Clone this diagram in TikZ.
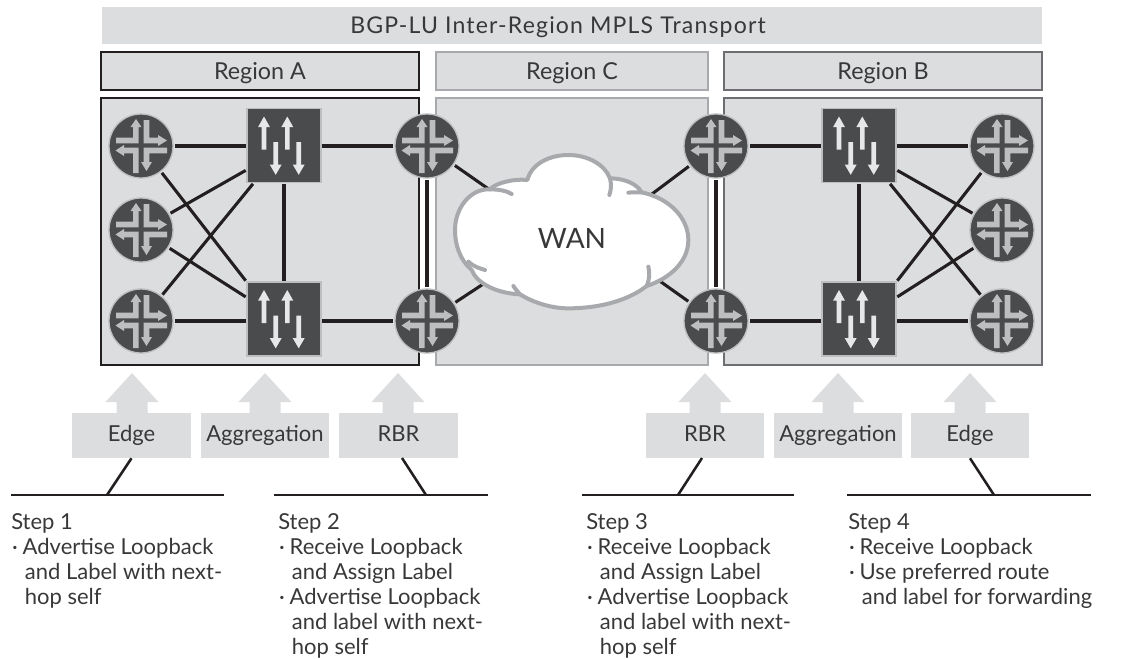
\documentclass[tikz,border=0pt]{standalone}
\usepackage{fontspec}
\setmainfont{Lato}
\newfontfamily\widefont[LetterSpace=5]{Lato}
\usetikzlibrary{calc}
\definecolor{ink}{HTML}{231F20}
\definecolor{soft}{HTML}{38383A}
\definecolor{panel}{HTML}{DCDDDE}
\definecolor{dev}{HTML}{4A4B4D}
\definecolor{devedge}{HTML}{BCBEC0}
\definecolor{glyph}{HTML}{BCBEC0}
\definecolor{swarrow}{HTML}{E6E7E8}
\definecolor{cloudedge}{HTML}{A7A9AC}
\definecolor{edgeB}{HTML}{6D6E71}
\newcommand{\routerglyph}[1]{%
 \begin{scope}[shift={(#1)}]
  \fill[glyph] (-25,-8.3)--(-8,-8.3)--(-8,-19)--(-10.5,-19)--(-5,-27)--(0.5,-19)--(-2.5,-19)--(-2.5,-2.7)--(-25,-2.7)--cycle;
  \fill[glyph] (2.7,-26)--(8.3,-26)--(8.3,-8.3)--(17,-8.3)--(17,-11)--(26,-5.5)--(17,0)--(17,-2.7)--(2.7,-2.7)--cycle;
  \fill[glyph] (-2.5,1.7)--(-2.5,27)--(-8,27)--(-8,7.3)--(-17,7.3)--(-17,10)--(-25.5,4.5)--(-17,-1)--(-17,1.7)--cycle;
  \fill[glyph] (2.7,1.7)--(26,1.7)--(26,7.3)--(8.3,7.3)--(8.3,16)--(11,16)--(5.5,25)--(0,16)--(2.7,16)--cycle;
 \end{scope}}
\newcommand{\swglyph}[1]{%
 \begin{scope}[shift={(#1)}]
  \foreach \q in {-20,3.3}{\fill[swarrow,shift={(\q,0)}] (-2.3,4)--(-2.3,-18.3)--(-6,-18.3)--(0,-29)--(6,-18.3)--(2.3,-18.3)--(2.3,4)--cycle;}
  \foreach \q in {-8.3,14.7}{\fill[swarrow,shift={(\q,0)}] (-2.3,-3.3)--(-2.3,19)--(-6,19)--(0,29.3)--(6,19)--(2.3,19)--(2.3,-3.3)--cycle;}
 \end{scope}}
\newcommand{\uparr}[1]{\fill[panel,shift={(#1,0)}] (-15.5,414)--(-15.5,402)--(-26.5,402)--(0,373)--(26.5,402)--(15.5,402)--(15.5,414)--cycle;}
\tikzset{
 x=0.75pt,y=-0.75pt,
 lbl/.style={font=\fontsize{16.5}{18.8}\selectfont,text=soft},
 panelbox/.style={lbl,fill=panel,inner sep=0pt,outer sep=0pt,line width=1.6pt,text height=12pt,text depth=0pt},
 regionname/.style={font=\fontsize{17.5}{20}\selectfont},
 router/.style={circle,fill=dev,draw=devedge,line width=1pt,minimum size=48pt,inner sep=0pt,outer sep=1.5pt},
 switchbox/.style={rectangle,fill=dev,draw=devedge,line width=1pt,minimum width=55.5pt,minimum height=55.5pt,inner sep=0pt,outer sep=1pt},
 link/.style={ink,line width=2.3pt},
 leader/.style={ink,line width=1.9pt},
 tag/.style={lbl,fill=panel,inner sep=0pt,minimum height=33.75pt,text height=12pt,text depth=2.5pt},
 steptext/.style={lbl,anchor=north west,align=left,inner sep=0pt},
}
\newcommand{\bul}{\makebox[8.6pt][l]{\hspace*{0.6pt}·}}
\newcommand{\ind}{\hspace*{10.2pt}}
\begin{document}
\begin{tikzpicture}
\useasboundingbox (0,0) rectangle (1134,658);
% header bands
\node[panelbox,minimum width=705pt,minimum height=27.75pt] (top) at (572,25.5) {};
\node[lbl,font=\fontsize{17.3}{20}\widefont,text height=12pt,text depth=0pt,inner sep=0pt] (toptext) at (558,25.5) {BGP-LU Inter-Region MPLS Transport};
\node[panelbox,regionname,draw=ink,minimum width=238.5pt,minimum height=28.5pt] (ha) at (260,71) {Region A};
\node[panelbox,regionname,draw=cloudedge,minimum width=204pt,minimum height=28.5pt] (hc) at (572,71) {Region C};
\node[panelbox,regionname,draw=edgeB,minimum width=238.5pt,minimum height=28.5pt] (hb) at (883,71) {Region B};
% region panels
\node[panelbox,draw=ink,minimum width=238.5pt,minimum height=200.25pt] (ra) at (260,231.5) {};
\node[panelbox,draw=cloudedge,minimum width=204pt,minimum height=200.25pt] (rc) at (572,231.5) {};
\node[panelbox,draw=edgeB,minimum width=238.5pt,minimum height=200.25pt] (rb) at (883,231.5) {};
% devices
\node[router] (a1) at (141,146) {};
\node[router] (a2) at (141,230) {};
\node[router] (a3) at (141,321) {};
\node[switchbox] (s1) at (284,145.5) {};
\node[switchbox] (s2) at (284,319) {};
\node[router] (b1) at (427,146) {};
\node[router] (b2) at (427,321) {};
\node[router] (c1) at (716,146) {};
\node[router] (c2) at (716,321) {};
\node[switchbox] (s3) at (859,145.5) {};
\node[switchbox] (s4) at (859,319) {};
\node[router] (d1) at (1002,146) {};
\node[router] (d2) at (1002,230) {};
\node[router] (d3) at (1002,321) {};
\coordinate (wnw) at (500,197);
\coordinate (wsw) at (500,273);
\coordinate (wne) at (640,203);
\coordinate (wse) at (640,267);
% links
\draw[link] (a1.east) -- (s1.west |- a1.east);
\draw[link] (a3.east) -- (s2.west |- a3.east);
\draw[link] (s1.east |- b1.west) -- (b1.west);
\draw[link] (s2.east |- b2.west) -- (b2.west);
\draw[link] (a1) -- (s2.north west);
\draw[link] (a2) -- (s1.213);
\draw[link] (a2) -- (s2.150);
\draw[link] (a3) -- (s1.231);
\draw[link] (s1.south) -- (s2.north);
\draw[link] (b1) -- (b2);
\draw[link] (c1) -- (c2);
\draw[link] (b1) -- (wnw);
\draw[link] (b2) -- (wsw);
\draw[link] (c1) -- (wne);
\draw[link] (c2) -- (wse);
\draw[link] (c1.east) -- (s3.west |- c1.east);
\draw[link] (c2.east) -- (s4.west |- c2.east);
\draw[link] (s3.east |- d1.west) -- (d1.west);
\draw[link] (s4.east |- d3.west) -- (d3.west);
\draw[link] (d1) -- (s4.north east);
\draw[link] (s3.327) -- (d2);
\draw[link] (s4.30) -- (d2);
\draw[link] (s3.309) -- (d3);
\draw[link] (s3.south) -- (s4.north);
% device symbols
\foreach \n in {a1,a2,a3,b1,b2,c1,c2,d1,d2,d3}{\routerglyph{\n}}
\foreach \n in {s1,s2,s3,s4}{\swglyph{\n}}
% cloud
\begin{scope}[shift={(440,80)},x=0.25pt,y=-0.25pt,line cap=round]
 \draw[fill=white,draw=cloudedge,line width=3pt,line join=round]
  (45,450) .. controls (45,385) and (90,325) .. (150,328)
  .. controls (165,310) and (220,295) .. (262,300)
  .. controls (275,250) and (330,225) .. (385,225)
  .. controls (445,225) and (495,255) .. (510,295)
  .. controls (550,295) and (590,310) .. (605,337)
  .. controls (690,355) and (745,415) .. (745,480)
  .. controls (745,545) and (690,595) .. (620,618)
  .. controls (560,665) and (470,685) .. (385,685)
  .. controls (330,685) and (275,665) .. (240,643)
  .. controls (170,640) and (110,610) .. (95,570)
  .. controls (60,540) and (45,495) .. (45,450) -- cycle;
 \draw[draw=cloudedge,line width=3pt]
  (150,328) .. controls (175,328) and (200,332) .. (215,342)
  (510,295) .. controls (515,315) and (513,330) .. (508,345)
  (565,338) .. controls (580,336) and (595,337) .. (605,337)
  (625,560) .. controls (630,580) and (628,600) .. (620,618)
  (220,618) .. controls (228,630) and (235,637) .. (240,643)
  (85,545) .. controls (100,560) and (120,565) .. (135,570);
\end{scope}
\node[lbl,font=\fontsize{21}{24}\selectfont] (wan) at (572,238) {WAN};
% role tags
\uparr{132}\uparr{265}\uparr{398}\uparr{705}\uparr{838}\uparr{970}
\node[tag,minimum width=89.25pt] (te) at (131.5,435.5) {Edge};
\node[tag,minimum width=96pt] (tg) at (265,435.5) {Aggregation};
\node[tag,minimum width=89.25pt] (tr) at (398.5,435.5) {RBR};
\node[tag,minimum width=88.5pt] (ur) at (705,435.5) {RBR};
\node[tag,minimum width=96pt] (ug) at (838,435.5) {Aggregation};
\node[tag,minimum width=88.5pt] (ue) at (970,435.5) {Edge};
% leaders
\coordinate (l1a) at (11,495); \coordinate (l1b) at (224,495); \coordinate (l1c) at (107,495);
\coordinate (l2a) at (274,495); \coordinate (l2b) at (488,495); \coordinate (l2c) at (426,495); \coordinate (l2d) at (402,458);
\coordinate (l3a) at (582,495); \coordinate (l3b) at (794,495); \coordinate (l3c) at (678,495); \coordinate (l3d) at (702,458);
\coordinate (l4a) at (847,495); \coordinate (l4b) at (1091,495); \coordinate (l4c) at (994,495);
\draw[leader] (l1a) -- (l1b); \draw[leader] (te.south) -- (l1c);
\draw[leader] (l2a) -- (l2b); \draw[leader] (l2d) -- (l2c);
\draw[leader] (l3a) -- (l3b); \draw[leader] (l3d) -- (l3c);
\draw[leader] (l4a) -- (l4b); \draw[leader] (ue.south) -- (l4c);
% step texts
\node[steptext] (t1) at (11,513) {Step 1\\\bul Advertise Loopback\\\ind and Label with next-\\\ind hop self};
\node[steptext] (t2) at (278,513) {Step 2\\\bul Receive Loopback\\\ind and Assign Label\\\bul Advertise Loopback\\\ind and label with next-\\\ind hop self};
\node[steptext] (t3) at (586,513) {Step 3\\\bul Receive Loopback\\\ind and Assign Label\\\bul Advertise Loopback\\\ind and label with next-\\\ind hop self};
\node[steptext] (t4) at (848,513) {Step 4\\\bul Receive Loopback\\\bul Use preferred route\\\ind and label for forwarding};
\end{tikzpicture}
\end{document}
